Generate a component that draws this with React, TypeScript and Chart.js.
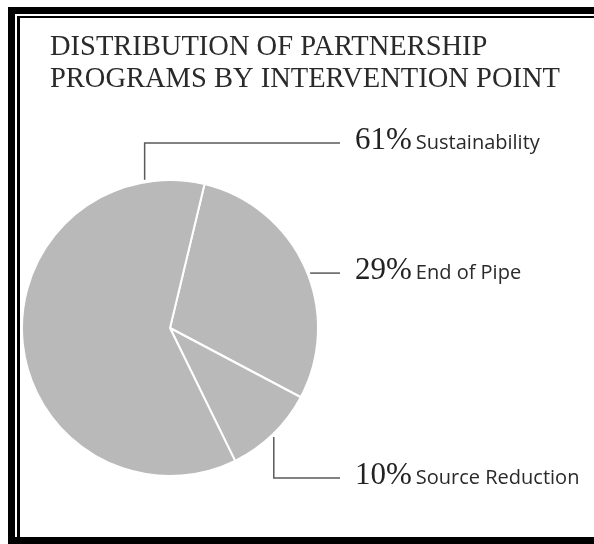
import React, { useEffect, useRef } from 'react';
import { Chart, registerables } from 'chart.js';

Chart.register(...registerables);

// ---- data ----
const titleLines = ['DISTRIBUTION OF PARTNERSHIP', 'PROGRAMS BY INTERVENTION POINT'];
const categories = ['End of Pipe', 'Source Reduction', 'Sustainability'];
const shares = [29, 10, 61];
const shareLabels = ['29%', '10%', '61%'];

// ---- layout / style for the leader lines (per slice, same order as categories) ----
// angle: degrees clockwise from the top where the leader leaves the pie
// row: vertical position of the label row, in multiples of the radius from the centre (null = same as anchor)
const LEADERS = [
  { angle: 68.6, row: null as number | null },
  { angle: 136.4, row: 1.013 },
  { angle: -9.7, row: -1.25 },
];

const SLICE_COLOR = '#b9b9b9';

const labelPlugin = {
  id: 'pieLabels',
  afterDraw(chart: any) {
    const ctx: CanvasRenderingContext2D = chart.ctx;
    const meta = chart.getDatasetMeta(0);
    if (!meta.data.length) return;
    const p = meta.data[0].getProps(['x', 'y', 'outerRadius'], true);
    const cx = p.x, cy = p.y, r = p.outerRadius;
    ctx.save();
    // title
    ctx.fillStyle = '#2a2a2a';
    ctx.textBaseline = 'alphabetic';
    ctx.textAlign = 'left';
    ctx.font = '28.5px "Liberation Serif", serif';
    titleLines.forEach((t, i) => ctx.fillText(t, 30, 37 + i * 32));

    const lineEndX = cx + 170;
    const textX = cx + 185;
    meta.data.forEach((arc: any, i: number) => {
      const cfg = LEADERS[i];
      const a = (cfg.angle * Math.PI) / 180;
      const ax = cx + (r + 2.5) * Math.sin(a);
      const ay = cy - (r + 2.5) * Math.cos(a);
      const ly = cfg.row == null ? ay : cy + cfg.row * r;
      ctx.strokeStyle = '#5a5a5a';
      ctx.lineWidth = 1.5;
      ctx.beginPath();
      ctx.moveTo(ax, ay);
      ctx.lineTo(ax, ly);
      ctx.lineTo(lineEndX, ly);
      ctx.stroke();

      const base = ly + 6;
      ctx.fillStyle = '#222222';
      ctx.font = '31px "Liberation Serif", serif';
      const pct = shareLabels[i];
      ctx.fillText(pct, textX, base);
      const w = ctx.measureText(pct).width;
      ctx.fillStyle = '#2a2a2a';
      ctx.font = '20px "Open Sans", sans-serif';
      ctx.fillText(categories[i], textX + w + 4, base);
    });
    ctx.restore();
  },
};

export default function App() {
  const ref = useRef<HTMLCanvasElement | null>(null);
  useEffect(() => {
    if (!ref.current) return;
    const chart = new Chart(ref.current, {
      type: 'pie',
      data: {
        labels: categories,
        datasets: [
          {
            data: shares,
            backgroundColor: SLICE_COLOR,
            borderColor: '#ffffff',
            borderWidth: 2,
          },
        ],
      },
      options: {
        animation: false,
        responsive: false,
        rotation: 13.5,
        radius: 148,
        layout: { padding: { left: 1, top: 161, right: 275, bottom: 60 } },
        plugins: {
          legend: { display: false },
          tooltip: { enabled: false },
          title: { display: false },
        },
      },
      plugins: [labelPlugin],
    });
    return () => chart.destroy();
  }, []);

  const black = '#000';
  return (
    <div style={{ position: 'absolute', left: 0, top: 0, width: 594, height: 544, overflow: 'hidden', background: '#fff' }}>
      <div style={{ position: 'absolute', left: 8, top: 7, width: 7, height: 537, background: black }} />
      <div style={{ position: 'absolute', left: 8, top: 7, width: 586, height: 7, background: black }} />
      <div style={{ position: 'absolute', left: 17, top: 16, width: 577, height: 2, background: black }} />
      <div style={{ position: 'absolute', left: 17, top: 16, width: 2.5, height: 521, background: black }} />
      <div style={{ position: 'absolute', left: 8, top: 537, width: 586, height: 7, background: black }} />
      <canvas ref={ref} width={574} height={519} style={{ position: 'absolute', left: 20, top: 18, width: 574, height: 519 }} />
    </div>
  );
}
